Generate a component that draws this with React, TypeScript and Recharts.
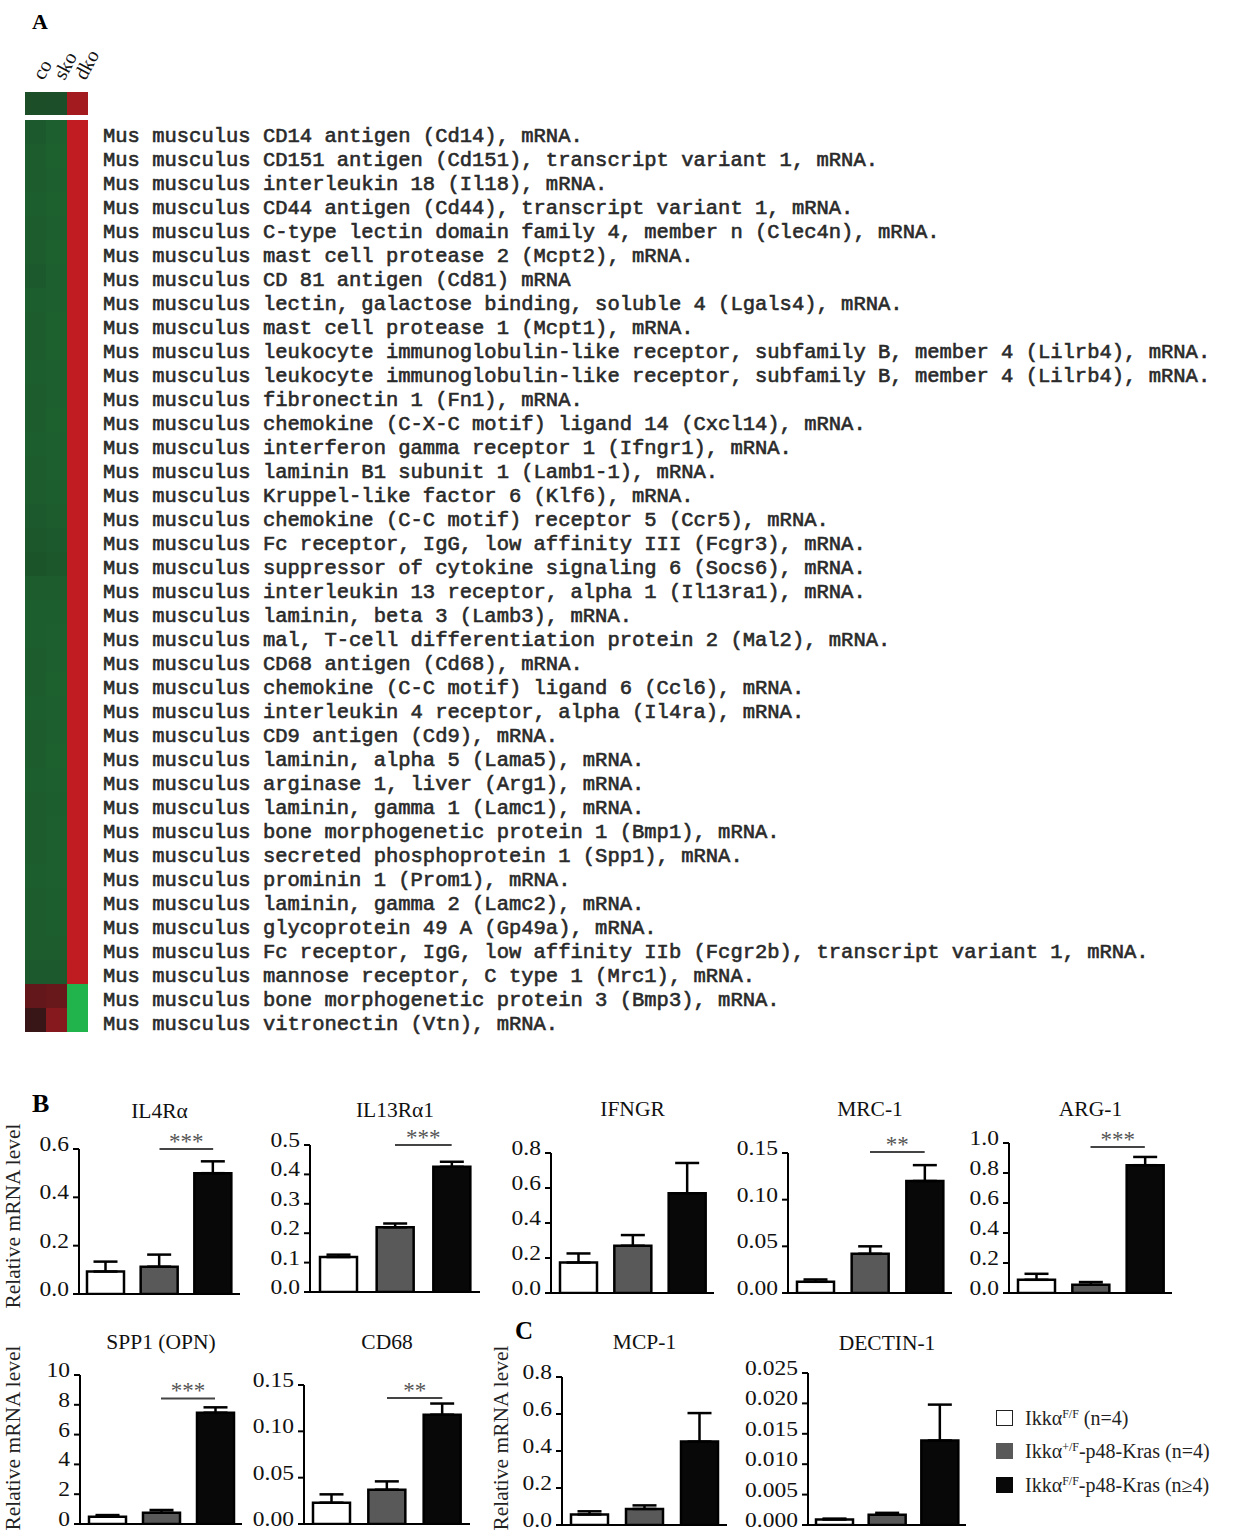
import React from "react";
import { BarChart, Bar, XAxis, YAxis, Cell, ErrorBar, ReferenceLine } from "recharts";

const SERIF = "'Liberation Serif', 'Times New Roman', serif";
const MONO = "'Liberation Mono', 'Courier New', monospace";

// ---- panel A: heat map ----
const heatCols = ["co", "sko", "dko"];
const headerVals = [-0.36, -0.37, 0.78];
const genes = [
  "Mus musculus CD14 antigen (Cd14), mRNA.",
  "Mus musculus CD151 antigen (Cd151), transcript variant 1, mRNA.",
  "Mus musculus interleukin 18 (Il18), mRNA.",
  "Mus musculus CD44 antigen (Cd44), transcript variant 1, mRNA.",
  "Mus musculus C-type lectin domain family 4, member n (Clec4n), mRNA.",
  "Mus musculus mast cell protease 2 (Mcpt2), mRNA.",
  "Mus musculus CD 81 antigen (Cd81) mRNA",
  "Mus musculus lectin, galactose binding, soluble 4 (Lgals4), mRNA.",
  "Mus musculus mast cell protease 1 (Mcpt1), mRNA.",
  "Mus musculus leukocyte immunoglobulin-like receptor, subfamily B, member 4 (Lilrb4), mRNA.",
  "Mus musculus leukocyte immunoglobulin-like receptor, subfamily B, member 4 (Lilrb4), mRNA.",
  "Mus musculus fibronectin 1 (Fn1), mRNA.",
  "Mus musculus chemokine (C-X-C motif) ligand 14 (Cxcl14), mRNA.",
  "Mus musculus interferon gamma receptor 1 (Ifngr1), mRNA.",
  "Mus musculus laminin B1 subunit 1 (Lamb1-1), mRNA.",
  "Mus musculus Kruppel-like factor 6 (Klf6), mRNA.",
  "Mus musculus chemokine (C-C motif) receptor 5 (Ccr5), mRNA.",
  "Mus musculus Fc receptor, IgG, low affinity III (Fcgr3), mRNA.",
  "Mus musculus suppressor of cytokine signaling 6 (Socs6), mRNA.",
  "Mus musculus interleukin 13 receptor, alpha 1 (Il13ra1), mRNA.",
  "Mus musculus laminin, beta 3 (Lamb3), mRNA.",
  "Mus musculus mal, T-cell differentiation protein 2 (Mal2), mRNA.",
  "Mus musculus CD68 antigen (Cd68), mRNA.",
  "Mus musculus chemokine (C-C motif) ligand 6 (Ccl6), mRNA.",
  "Mus musculus interleukin 4 receptor, alpha (Il4ra), mRNA.",
  "Mus musculus CD9 antigen (Cd9), mRNA.",
  "Mus musculus laminin, alpha 5 (Lama5), mRNA.",
  "Mus musculus arginase 1, liver (Arg1), mRNA.",
  "Mus musculus laminin, gamma 1 (Lamc1), mRNA.",
  "Mus musculus bone morphogenetic protein 1 (Bmp1), mRNA.",
  "Mus musculus secreted phosphoprotein 1 (Spp1), mRNA.",
  "Mus musculus prominin 1 (Prom1), mRNA.",
  "Mus musculus laminin, gamma 2 (Lamc2), mRNA.",
  "Mus musculus glycoprotein 49 A (Gp49a), mRNA.",
  "Mus musculus Fc receptor, IgG, low affinity IIb (Fcgr2b), transcript variant 1, mRNA.",
  "Mus musculus mannose receptor, C type 1 (Mrc1), mRNA.",
  "Mus musculus bone morphogenetic protein 3 (Bmp3), mRNA.",
  "Mus musculus vitronectin (Vtn), mRNA.",
];
const coVals = [
  -0.44, -0.45, -0.45, -0.46, -0.45, -0.45, -0.44, -0.46, -0.45, -0.45, -0.46, -0.45, -0.45,
  -0.46, -0.45, -0.45, -0.44, -0.42, -0.4, -0.45, -0.46, -0.46, -0.45, -0.45, -0.46, -0.45,
  -0.45, -0.46, -0.45, -0.45, -0.45, -0.46, -0.45, -0.45, -0.45, -0.44, 0.42, 0.18,
];
const skoVals = [
  -0.47, -0.48, -0.47, -0.48, -0.47, -0.48, -0.47, -0.47, -0.48, -0.48, -0.47, -0.47, -0.48,
  -0.47, -0.47, -0.46, -0.45, -0.43, -0.42, -0.45, -0.46, -0.47, -0.47, -0.48, -0.47, -0.47,
  -0.48, -0.47, -0.46, -0.47, -0.47, -0.47, -0.46, -0.46, -0.45, -0.44, 0.45, 0.62,
];
const dkoVals = [
  0.95, 0.95, 0.95, 0.95, 0.95, 0.95, 0.95, 0.95, 0.95, 0.95, 0.95, 0.95, 0.95, 0.95, 0.95,
  0.95, 0.95, 0.95, 0.95, 0.95, 0.95, 0.95, 0.95, 0.95, 0.95, 0.95, 0.95, 0.95, 0.95, 0.95,
  0.95, 0.95, 0.95, 0.95, 0.95, 0.94, -1, -1,
];

// ---- panels B / C: qPCR bars ----
const groups = ["IkkaFF", "IkkaPF-Kras", "IkkaFF-Kras"];
const groupFills = ["#ffffff", "#595959", "#080808"];

const il4raMean = [0.093, 0.113, 0.5];
const il4raSem = [0.041, 0.05, 0.049];
const il13ra1Mean = [0.119, 0.22, 0.426];
const il13ra1Sem = [0.008, 0.013, 0.017];
const ifngrMean = [0.174, 0.27, 0.57];
const ifngrSem = [0.052, 0.061, 0.173];
const mrc1Mean = [0.012, 0.042, 0.12];
const mrc1Sem = [0.0025, 0.008, 0.017];
const arg1Mean = [0.088, 0.055, 0.852];
const arg1Sem = [0.04, 0.018, 0.055];
const spp1Mean = [0.49, 0.76, 7.47];
const spp1Sem = [0.11, 0.18, 0.36];
const cd68Mean = [0.023, 0.037, 0.118];
const cd68Sem = [0.009, 0.009, 0.012];
const mcp1Mean = [0.057, 0.087, 0.451];
const mcp1Sem = [0.017, 0.019, 0.154];
const dectin1Mean = [0.0009, 0.0017, 0.0139];
const dectin1Sem = [0.00015, 0.0003, 0.0059];

const ticks06 = [0, 0.2, 0.4, 0.6];
const ticks05 = [0, 0.1, 0.2, 0.3, 0.4, 0.5];
const ticks08 = [0, 0.2, 0.4, 0.6, 0.8];
const ticks015 = [0, 0.05, 0.1, 0.15];
const ticks10 = [0, 0.2, 0.4, 0.6, 0.8, 1.0];
const ticksSpp1 = [0, 2, 4, 6, 8, 10];
const ticks0025 = [0, 0.005, 0.01, 0.015, 0.02, 0.025];

const legendBase = ["Ikkα", "Ikkα", "Ikkα"];
const legendSup = ["F/F", "+/F", "F/F"];
const legendRest = [" (n=4)", "-p48-Kras (n=4)", "-p48-Kras (n≥4)"];

function heatColor(v: number) {
  const t = Math.min(1, Math.abs(v));
  const base = [24, 20, 20];
  const hi = v >= 0 ? [202, 28, 34] : [34, 180, 76];
  const c = base.map((b, k) => Math.round(b + (hi[k] - b) * t));
  return `rgb(${c.join(",")})`;
}

function GeneTick(props: any) {
  const { x, y, payload } = props;
  return (
    <text x={x} y={y} dy={10} fontFamily={MONO} fontSize={20.5} fill="#2a2a2a" stroke="#2a2a2a" strokeWidth={0.6}>
      {genes[payload.value]}
    </text>
  );
}

function ColTick(props: any) {
  const { x, y, payload } = props;
  return (
    <text
      transform={`translate(${x + 8},${y - 11}) rotate(-62)`}
      fontFamily={SERIF}
      fontSize={20}
      fill="#111"
    >
      {heatCols[Math.floor(payload.value)]}
    </text>
  );
}

function HeatHeader() {
  const data = [{ idx: 0, co: 1, sko: 1, dko: 1 }];
  return (
    <div style={{ position: "absolute", left: 25, top: 42 }}>
      <BarChart layout="vertical" width={95} height={73} data={data}
        margin={{ top: 0, right: 32, bottom: 0, left: 0 }} barCategoryGap={0}>
        <XAxis type="number" domain={[0, 3]} orientation="top" ticks={[0.5, 1.5, 2.5]} height={50}
          axisLine={false} tickLine={false} tickSize={0} tickMargin={0} interval={0} tick={<ColTick />} />
        <YAxis type="category" dataKey="idx" hide />
        <Bar dataKey="co" stackId="h" fill={heatColor(headerVals[0])} isAnimationActive={false} />
        <Bar dataKey="sko" stackId="h" fill={heatColor(headerVals[1])} isAnimationActive={false} />
        <Bar dataKey="dko" stackId="h" fill={heatColor(headerVals[2])} isAnimationActive={false} />
      </BarChart>
    </div>
  );
}

function HeatMain() {
  const data = genes.map((_, i) => ({ idx: i, co: 1, sko: 1, dko: 1 }));
  return (
    <div style={{ position: "absolute", left: 25, top: 120 }}>
      <BarChart layout="vertical" width={1208} height={926} data={data}
        margin={{ top: 0, right: 0, bottom: 14, left: 0 }} barCategoryGap={0}>
        <XAxis type="number" domain={[0, 3]} hide />
        <YAxis type="category" dataKey="idx" orientation="right" width={1145} axisLine={false}
          tickLine={false} tickSize={0} tickMargin={15} interval={0} tick={<GeneTick />} />
        <Bar dataKey="co" stackId="h" isAnimationActive={false}>
          {coVals.map((v, i) => <Cell key={i} fill={heatColor(v)} />)}
        </Bar>
        <Bar dataKey="sko" stackId="h" isAnimationActive={false}>
          {skoVals.map((v, i) => <Cell key={i} fill={heatColor(v)} />)}
        </Bar>
        <Bar dataKey="dko" stackId="h" isAnimationActive={false}>
          {dkoVals.map((v, i) => <Cell key={i} fill={heatColor(v)} />)}
        </Bar>
      </BarChart>
    </div>
  );
}

function NumTick(props: any) {
  const { x, y, payload, dec } = props;
  return (
    <g transform={`translate(${x},${y})`}>
      <text transform="scale(1.12,1)" textAnchor="end" dy={2} fontFamily={SERIF} fontSize={21} fill="#111">
        {Number(payload.value).toFixed(dec)}
      </text>
    </g>
  );
}

type Box = { axisX: number; xEnd: number; yTop: number; yBottom: number; titleBase: number };

function QpcrChart(p: {
  title: string; means: number[]; sems: number[]; ticks: number[]; dec: number;
  sigY?: number; stars?: string; box: Box;
}) {
  const yw = 75, mt = 40, mr = 6, xh = 8;
  const { axisX, xEnd, yTop, yBottom, titleBase } = p.box;
  const data = groups.map((g, i) => ({ g, v: p.means[i], e: [0, p.sems[i]] }));
  const w = yw + (xEnd - axisX) + mr;
  const h = mt + (yBottom - yTop) + xh;
  const max = p.ticks[p.ticks.length - 1];
  return (
    <>
      <div style={{ position: "absolute", left: (axisX + xEnd) / 2, top: titleBase - 0.8375 * 21.5,
        transform: "translateX(-50%)", fontFamily: SERIF, fontSize: 21.5, lineHeight: 1,
        whiteSpace: "nowrap", color: "#111" }}>
        {p.title}
      </div>
      <div style={{ position: "absolute", left: axisX - yw, top: yTop - mt }}>
        <BarChart width={w} height={h} data={data} margin={{ top: mt, right: mr, bottom: 0, left: 0 }} barSize={37}>
          <XAxis dataKey="g" tick={false} height={xh} tickSize={6}
            axisLine={{ stroke: "#000", strokeWidth: 2 }} tickLine={{ stroke: "#000", strokeWidth: 2 }} />
          <YAxis type="number" domain={[0, max]} ticks={p.ticks} interval={0} width={yw} allowDataOverflow
            tickSize={6} tickMargin={4} axisLine={{ stroke: "#000", strokeWidth: 2 }}
            tickLine={{ stroke: "#000", strokeWidth: 2 }} tick={<NumTick dec={p.dec} />} />
          <Bar dataKey="v" stroke="#000" strokeWidth={2.5} isAnimationActive={false}>
            {groupFills.map((f, i) => <Cell key={i} fill={f} />)}
            <ErrorBar dataKey="e" width={12} stroke="#000" strokeWidth={2.5} direction="y" />
          </Bar>
          {p.sigY !== undefined && (
            <ReferenceLine
              segment={[{ x: groups[1], y: p.sigY }, { x: groups[2], y: p.sigY }]}
              stroke="#444" strokeWidth={2} ifOverflow="visible"
              label={{ value: p.stars, position: "top", fill: "#555", fontSize: 23, fontFamily: SERIF, offset: 0 }}
            />
          )}
        </BarChart>
      </div>
    </>
  );
}

function YLabel({ cx, cy }: { cx: number; cy: number }) {
  return (
    <div style={{ position: "absolute", left: cx, top: cy, transform: "translate(-50%,-50%) rotate(-90deg)",
      fontFamily: SERIF, fontSize: 21.5, lineHeight: 1, whiteSpace: "nowrap", color: "#222" }}>
      Relative mRNA level
    </div>
  );
}

function PanelLetter({ text, left, top, size }: { text: string; left: number; top: number; size: number }) {
  return (
    <div style={{ position: "absolute", left, top, fontFamily: SERIF, fontWeight: "bold", fontSize: size,
      lineHeight: 1, color: "#000" }}>
      {text}
    </div>
  );
}

function Legend() {
  const rowY = [1418, 1451, 1485];
  return (
    <>
      {groupFills.map((f, i) => (
        <div key={i} style={{ position: "absolute", left: 996, top: rowY[i] - 12, height: 24, display: "flex",
          alignItems: "center", whiteSpace: "nowrap", fontFamily: SERIF, fontSize: 20, color: "#222" }}>
          <span style={{ display: "inline-block", width: 17, height: 16, background: f, boxSizing: "border-box",
            border: i === 0 ? "1.5px solid #222" : `1.5px solid ${f}`, marginRight: 12 }} />
          <span>
            {legendBase[i]}
            <span style={{ fontSize: 12, position: "relative", top: -7 }}>{legendSup[i]}</span>
            {legendRest[i]}
          </span>
        </div>
      ))}
    </>
  );
}

export default function App() {
  return (
    <div style={{ position: "absolute", left: 0, top: 0, width: 1233, height: 1533, overflow: "hidden", background: "#fff" }}>
      <PanelLetter text="A" left={32} top={11} size={22} />
      <HeatHeader />
      <HeatMain />

      <PanelLetter text="B" left={32} top={1091} size={26} />
      <YLabel cx={14} cy={1216} />
      <QpcrChart title="IL4Rα" means={il4raMean} sems={il4raSem} ticks={ticks06} dec={1} sigY={0.6} stars="***"
        box={{ axisX: 79, xEnd: 240, yTop: 1149, yBottom: 1294, titleBase: 1119 }} />
      <QpcrChart title="IL13Rα1" means={il13ra1Mean} sems={il13ra1Sem} ticks={ticks05} dec={1} sigY={0.5} stars="***"
        box={{ axisX: 310, xEnd: 480, yTop: 1145, yBottom: 1292, titleBase: 1118 }} />
      <QpcrChart title="IFNGR" means={ifngrMean} sems={ifngrSem} ticks={ticks08} dec={1}
        box={{ axisX: 551, xEnd: 714, yTop: 1153, yBottom: 1293, titleBase: 1117 }} />
      <QpcrChart title="MRC-1" means={mrc1Mean} sems={mrc1Sem} ticks={ticks015} dec={2} sigY={0.151} stars="**"
        box={{ axisX: 788, xEnd: 952, yTop: 1153, yBottom: 1293, titleBase: 1117 }} />
      <QpcrChart title="ARG-1" means={arg1Mean} sems={arg1Sem} ticks={ticks10} dec={1} sigY={0.973} stars="***"
        box={{ axisX: 1009, xEnd: 1172, yTop: 1143, yBottom: 1293, titleBase: 1117 }} />

      <YLabel cx={14} cy={1438} />
      <QpcrChart title="SPP1 (OPN)" means={spp1Mean} sems={spp1Sem} ticks={ticksSpp1} dec={0} sigY={8.43} stars="***"
        box={{ axisX: 80, xEnd: 242, yTop: 1375, yBottom: 1524, titleBase: 1350 }} />
      <QpcrChart title="CD68" means={cd68Mean} sems={cd68Sem} ticks={ticks015} dec={2} sigY={0.136} stars="**"
        box={{ axisX: 304, xEnd: 470, yTop: 1385, yBottom: 1524, titleBase: 1350 }} />

      <PanelLetter text="C" left={515} top={1318} size={25} />
      <YLabel cx={502} cy={1438} />
      <QpcrChart title="MCP-1" means={mcp1Mean} sems={mcp1Sem} ticks={ticks08} dec={1}
        box={{ axisX: 562, xEnd: 727, yTop: 1377, yBottom: 1525, titleBase: 1350 }} />
      <QpcrChart title="DECTIN-1" means={dectin1Mean} sems={dectin1Sem} ticks={ticks0025} dec={3}
        box={{ axisX: 808, xEnd: 966, yTop: 1373, yBottom: 1525, titleBase: 1351 }} />

      <Legend />
    </div>
  );
}
